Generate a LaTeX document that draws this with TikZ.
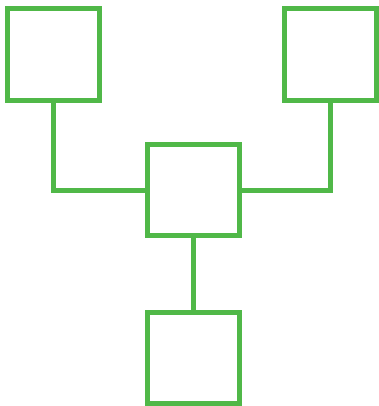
\documentclass[tikz,border=0pt]{standalone}
\usepackage{xcolor}
\usepackage{tikz}
\usetikzlibrary{positioning}
\definecolor{leafgreen}{RGB}{80,184,72}
\tikzset{
  squarebox/.style={draw=leafgreen, line width=5pt, minimum size=91.5pt, inner sep=0pt},
  linkline/.style={draw=leafgreen, line width=5pt}
}
\begin{document}
\begin{tikzpicture}[x=1pt,y=-1pt]
\useasboundingbox (0,0) rectangle (378,406);
\node[squarebox] (leftBox) at (53.25,54.5) {};
\node[squarebox] (rightBox) at (330.3,54.5) {};
\node[squarebox] (hubBox) at (193.25,190) {};
\node[squarebox] (bottomBox) at (193.25,357.75) {};
\draw[linkline] (leftBox.south) |- (hubBox.west);
\draw[linkline] (rightBox.south) |- (hubBox.east);
\draw[linkline] (hubBox) -- (bottomBox);
\end{tikzpicture}
\end{document}
